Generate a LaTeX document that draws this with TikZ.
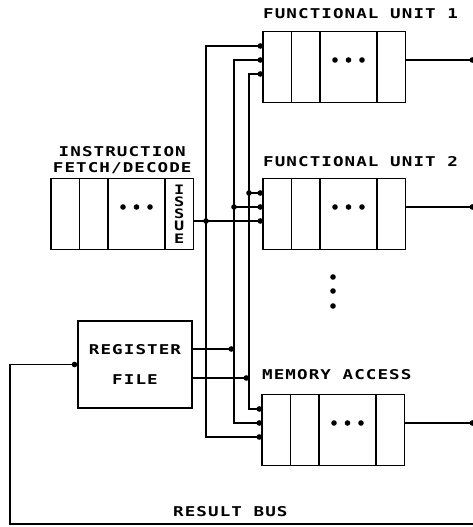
\documentclass[tikz,border=0pt]{standalone}
\usepackage{fontspec}
\newfontfamily\plotfont{DejaVu Sans Mono Bold}[FakeStretch=1.3,LetterSpace=8]
\usetikzlibrary{arrows.meta, positioning, calc}

\begin{document}
\begin{tikzpicture}[
    x=1pt, y=1pt,
    font=\plotfont\fontsize{13.5}{16}\selectfont,
    cell/.style={rectangle, draw=black, line width=1.5pt, minimum width=28.5pt, minimum height=71pt, inner sep=0pt, outer sep=0pt},
    widecell/.style={cell, minimum width=57pt},
    regbox/.style={rectangle, draw=black, line width=1.5pt, minimum width=114pt, minimum height=87pt, align=center, inner sep=0pt},
    unitlabel/.style={anchor=base west, inner sep=0pt},
    grouplabel/.style={anchor=south, yshift=6pt, align=center, text depth=0pt, inner sep=0pt},
    wire/.style={line width=1.5pt, draw=black},
    feed/.style={wire, -{Circle[length=5.5pt]}},
    bus/.style={wire, {Circle[length=5.5pt]}-{Circle[length=5.5pt]}}
  ]
  \useasboundingbox (0,0) rectangle (473,527);

  % functional unit 1
  \node[cell, anchor=west] (fu1a) at (263,460) {};
  \node[cell, right=0pt of fu1a] (fu1b) {};
  \node[widecell, right=0pt of fu1b] (fu1c) {};
  \node[cell, right=0pt of fu1c] (fu1d) {};
  \node[unitlabel] (fu1lbl) at ([yshift=13pt]fu1a.north west) {FUNCTIONAL UNIT 1};

  % functional unit 2
  \node[cell, anchor=west] (fu2a) at (263,313) {};
  \node[cell, right=0pt of fu2a] (fu2b) {};
  \node[widecell, right=0pt of fu2b] (fu2c) {};
  \node[cell, right=0pt of fu2c] (fu2d) {};
  \node[unitlabel] (fu2lbl) at ([yshift=12pt]fu2a.north west) {FUNCTIONAL UNIT 2};

  % memory access
  \node[cell, anchor=west] (maa) at (262,97) {};
  \node[cell, right=0pt of maa] (mab) {};
  \node[widecell, right=0pt of mab] (mac) {};
  \node[cell, right=0pt of mac] (mad) {};
  \node[unitlabel] (malbl) at ([yshift=15pt]maa.north west) {MEMORY ACCESS};

  % instruction fetch/decode
  \node[cell, anchor=west] (ifda) at (51,313) {};
  \node[cell, right=0pt of ifda] (ifdb) {};
  \node[widecell, right=0pt of ifdb] (ifdc) {};
  \node[cell, right=0pt of ifdc, align=center, font=\plotfont\fontsize{13}{12.2}\selectfont] (issue) {I\\S\\S\\U\\E};
  \node[grouplabel] (ifdlbl) at ($(ifda.north west)!0.5!(issue.north east)$) {INSTRUCTION\\FETCH/DECODE};

  % register file
  \node[regbox] (reg) at (135,162.5) {REGISTER\\[14pt]FILE};

  % dots inside the pipelines
  \foreach \cellname in {fu1c, fu2c, mac, ifdc}
    \foreach \dx in {-13.5, 0, 13.5}
      \fill ([xshift=\dx pt, yshift=7pt]\cellname.center) circle (2.8pt);
  \foreach \y in {250, 236, 221}
    \fill (333,\y) circle (2.8pt);

  % bus positions and inputs
  \coordinate (busA) at (206,300);
  \coordinate (busB) at (234,300);
  \coordinate (busC) at (249,300);
  \coordinate (rbus) at (475,3);
  \coordinate (rbcorner) at (10,3);
  \coordinate (fu1in1) at ([yshift=21pt]fu1a.west);
  \coordinate (fu1in2) at ([yshift=7pt]fu1a.west);
  \coordinate (fu1in3) at ([yshift=-7pt]fu1a.west);
  \coordinate (fu2in1) at ([yshift=21pt]fu2a.west);
  \coordinate (fu2in2) at ([yshift=7pt]fu2a.west);
  \coordinate (fu2in3) at ([yshift=-7pt]fu2a.west);
  \coordinate (main1) at ([yshift=21pt]maa.west);
  \coordinate (main2) at ([yshift=7pt]maa.west);
  \coordinate (main3) at ([yshift=-7pt]maa.west);
  \coordinate (fu1out) at ([yshift=7pt]fu1d.east);
  \coordinate (fu2out) at ([yshift=7pt]fu2d.east);
  \coordinate (maout) at ([yshift=7pt]mad.east);
  \coordinate (regout1) at ([yshift=15.5pt]reg.east);
  \coordinate (regout2) at ([yshift=-13.5pt]reg.east);

  % operand buses
  \draw[bus] (fu1in1) -| (busA) |- (main3);
  \draw[bus] (fu1in2) -| (busB) |- (main2);
  \draw[bus] (fu1in3) -| (busC) |- (main1);

  % issue and register file outputs
  \draw[feed] (issue.east |- fu2in3) -- (fu2in3);
  \draw[feed] (fu2in2 -| busB) -- (fu2in2);
  \draw[feed] (fu2in1 -| busC) -- (fu2in1);
  \draw[feed] (regout1) -- (regout1 -| busB);
  \draw[feed] (regout2) -- (regout2 -| busC);
  \fill (fu2in3 -| busA) circle (2.8pt);
  \fill (fu2in2 -| busB) circle (2.8pt);
  \fill (fu2in1 -| busC) circle (2.8pt);

  % results
  \draw[feed] (fu1out) -- (fu1out -| rbus);
  \draw[feed] (fu2out) -- (fu2out -| rbus);
  \draw[feed] (maout) -- (maout -| rbus);
  \draw[feed] (rbus) -- (rbcorner) |- (reg.west);
  \node[anchor=base west, inner sep=0pt] (rblbl) at ([shift={(163,7)}]rbcorner) {RESULT BUS};
\end{tikzpicture}
\end{document}
